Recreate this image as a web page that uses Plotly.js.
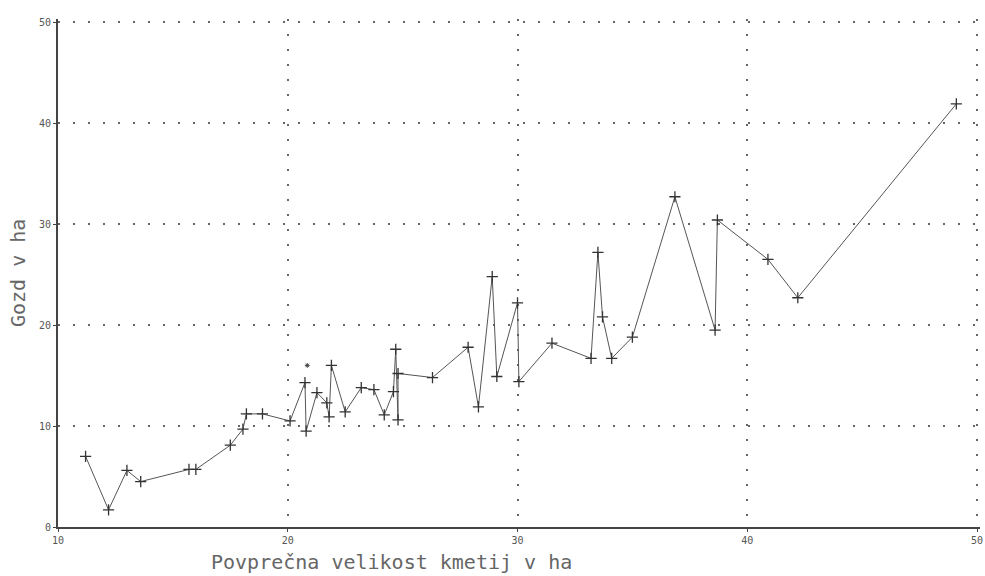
<!DOCTYPE html>
<html>
<head>
<meta charset="utf-8">
<script src="https://cdn.plot.ly/plotly-3.0.1.min.js"></script>
<style>html,body{margin:0;padding:0;background:#fff;}#chart{width:985px;height:576px;}</style>
</head>
<body>
<div id="chart"></div>
<script>
// Povprečna velikost kmetij v ha (x) vs. Gozd v ha (y)
const farmSize = [11.2, 12.2, 13.0, 13.6, 15.7, 16.0, 17.5, 18.05, 18.2, 18.9, 20.1, 20.75, 20.8, 21.27, 21.7, 21.8, 21.9, 22.5, 23.2, 23.75, 24.2, 24.6, 24.7, 24.8, 24.8, 26.3, 27.85, 28.3, 28.9, 29.1, 30.0, 30.06, 31.5, 33.2, 33.5, 33.7, 34.1, 35.0, 36.85, 38.6, 38.7, 40.9, 42.2, 49.1];
const forest   = [7.0, 1.7, 5.6, 4.5, 5.7, 5.7, 8.1, 9.7, 11.2, 11.2, 10.5, 14.3, 9.5, 13.3, 12.3, 10.9, 16.0, 11.4, 13.8, 13.6, 11.1, 13.4, 17.6, 10.6, 15.2, 14.8, 17.8, 11.9, 24.8, 14.9, 22.2, 14.4, 18.2, 16.7, 27.2, 20.8, 16.7, 18.8, 32.7, 19.5, 30.4, 26.5, 22.7, 41.9];
const strayX = [20.85];
const strayY = [16.0];
const xTicks = [10, 20, 30, 40, 50];
const yTicks = [0, 10, 20, 30, 40, 50];
const xTitle = 'Povprečna velikost kmetij v ha';
const yTitle = 'Gozd v ha';

const traces = [
  {
    x: farmSize, y: forest, type: 'scatter', mode: 'lines+markers',
    line: {color: '#555', width: 1},
    marker: {symbol: 'cross-thin-open', size: 8, color: '#333', line: {color: '#333', width: 1.3}},
    hoverinfo: 'x+y'
  },
  {
    x: strayX, y: strayY, type: 'scatter', mode: 'markers',
    marker: {symbol: 'asterisk-open', size: 4, color: '#444', line: {color: '#444', width: 1}},
    hoverinfo: 'x+y'
  }
];

const tickFont = {family: 'DejaVu Sans Mono, monospace', size: 10, color: '#555'};
const gridStyle = {showgrid: true, gridcolor: '#666', gridwidth: 2, griddash: '2px,13px'};

const layout = {
  width: 985, height: 576,
  margin: {l: 58, r: 5, t: 19, b: 49},
  paper_bgcolor: '#fff', plot_bgcolor: '#fff',
  showlegend: false,
  xaxis: Object.assign({
    range: [10, 50.13], tickvals: xTicks, ticktext: xTicks.map(String),
    showline: true, linecolor: '#444', linewidth: 2, mirror: false,
    zeroline: false, ticks: 'outside', ticklen: 3, tickcolor: '#444',
    tickfont: tickFont
  }, gridStyle),
  yaxis: Object.assign({
    range: [0, 50.3], tickvals: yTicks, ticktext: yTicks.map(String),
    showline: true, linecolor: '#444', linewidth: 2, mirror: false,
    zeroline: false, ticks: 'outside', ticklen: 3, tickcolor: '#444',
    tickfont: tickFont
  }, gridStyle),
  annotations: [
    {text: xTitle, xref: 'paper', yref: 'paper', x: (391 - 58) / 922, y: 0, yshift: -35,
     xanchor: 'center', yanchor: 'middle', showarrow: false,
     font: {family: 'DejaVu Sans Mono, monospace', size: 20, color: '#666'}},
    {text: yTitle, xref: 'paper', yref: 'paper', x: 0, xshift: -40, y: 0.5,
     xanchor: 'center', yanchor: 'middle', showarrow: false, textangle: -90,
     font: {family: 'DejaVu Sans Mono, monospace', size: 20, color: '#666'}}
  ]
};

Plotly.newPlot('chart', traces, layout, {displayModeBar: false, staticPlot: true});
</script>
</body>
</html>
